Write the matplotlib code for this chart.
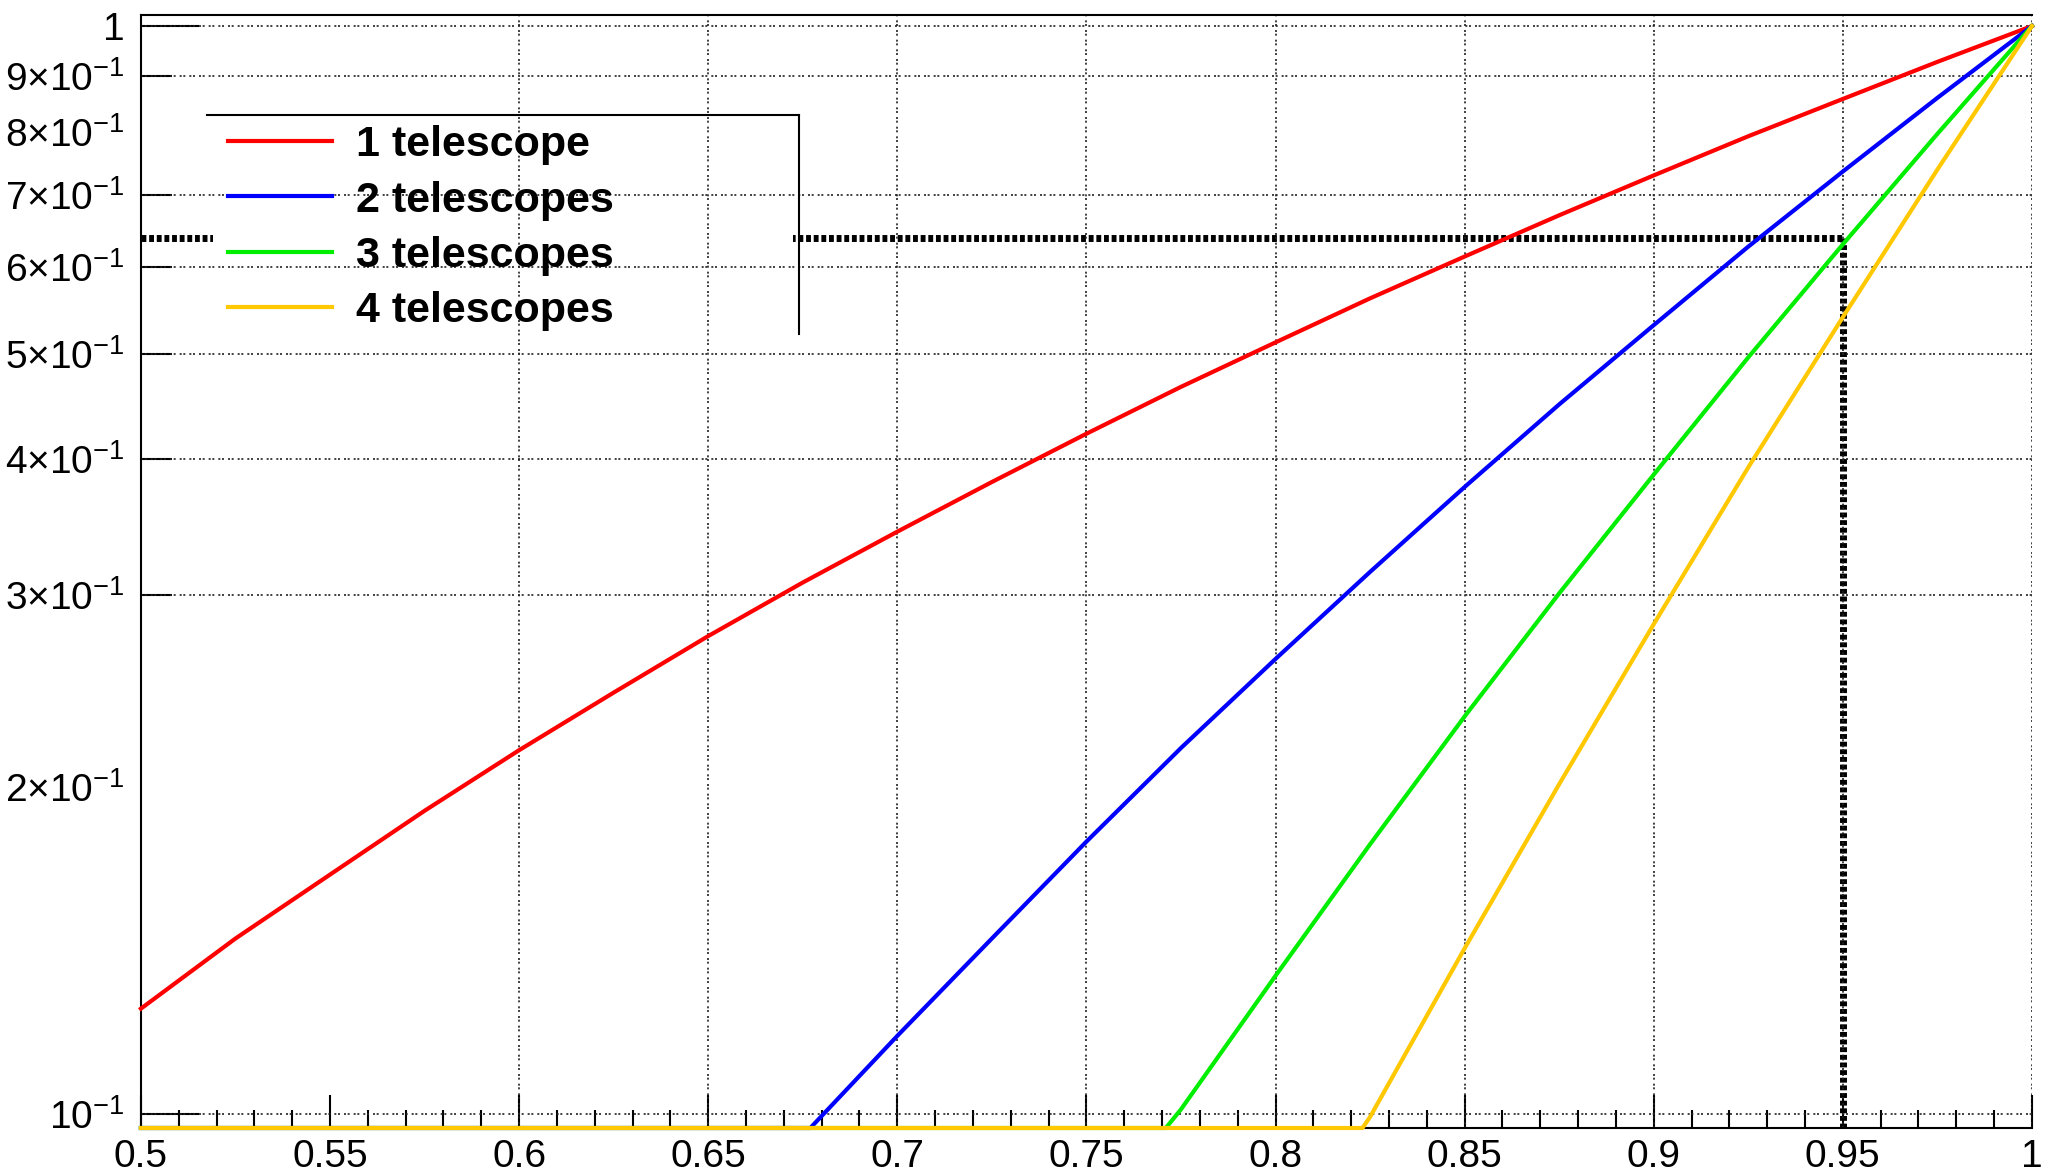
import matplotlib
matplotlib.use("Agg")
import matplotlib.pyplot as plt
from matplotlib.patches import Rectangle
from matplotlib.ticker import FixedLocator, FixedFormatter, NullLocator, MultipleLocator

# ======================
# |       DATA         |
# ======================
# empty bins land on the bottom of the log axis
y_floor = 0.0971
y_top = 1.0236

# 1 telescope
red_x = [0.5, 0.525, 0.55, 0.575, 0.6, 0.625, 0.65, 0.675, 0.7, 0.725, 0.75,
         0.775, 0.8, 0.825, 0.85, 0.875, 0.9, 0.925, 0.95, 0.975, 1.0]
red_y = [0.125, 0.145, 0.166, 0.190, 0.216, 0.244, 0.275, 0.308, 0.343, 0.381, 0.422,
         0.466, 0.512, 0.562, 0.614, 0.670, 0.729, 0.792, 0.857, 0.927, 1.0]

# 2 telescopes
blue_x = [0.5, 0.677, 0.7, 0.725, 0.75, 0.775, 0.8, 0.825, 0.85, 0.875, 0.9,
          0.925, 0.95, 0.975, 1.0]
blue_y = [0.0971, 0.0971, 0.118, 0.145, 0.178, 0.217, 0.262, 0.315, 0.377, 0.449, 0.531,
          0.627, 0.735, 0.859, 1.0]

# 3 telescopes
green_x = [0.5, 0.771, 0.775, 0.8, 0.825, 0.85, 0.875, 0.9, 0.925, 0.95, 0.975, 1.0]
green_y = [0.0971, 0.0971, 0.101, 0.134, 0.177, 0.232, 0.301, 0.387, 0.496, 0.630, 0.796, 1.0]

# 4 telescopes
yellow_x = [0.5, 0.823, 0.825, 0.85, 0.875, 0.9, 0.925, 0.95, 0.975, 1.0]
yellow_y = [0.0971, 0.0971, 0.0994, 0.142, 0.201, 0.282, 0.393, 0.540, 0.738, 1.0]

labels = ["1 telescope", "2 telescopes", "3 telescopes", "4 telescopes"]
colors = ["#ff0000", "#0000ff", "#00ee00", "#ffc800"]

# working point markers
ref_level = 0.639
ref_x = 0.95

# ticks
x_ticks = [0.5, 0.55, 0.6, 0.65, 0.7, 0.75, 0.8, 0.85, 0.9, 0.95, 1.0]
x_labels = ["0.5", "0.55", "0.6", "0.65", "0.7", "0.75", "0.8", "0.85", "0.9", "0.95", "1"]
y_ticks = [0.1, 0.2, 0.3, 0.4, 0.5, 0.6, 0.7, 0.8, 0.9, 1.0]
y_labels = [r"$10^{-1}$", r"$2{\times}10^{-1}$", r"$3{\times}10^{-1}$", r"$4{\times}10^{-1}$",
            r"$5{\times}10^{-1}$", r"$6{\times}10^{-1}$", r"$7{\times}10^{-1}$",
            r"$8{\times}10^{-1}$", r"$9{\times}10^{-1}$", "1"]
x_grid = [0.6, 0.65, 0.7, 0.75, 0.8, 0.85, 0.9, 0.95, 1.0]
y_grid = [0.1, 0.3, 0.4, 0.5, 0.6, 0.7, 0.9, 1.0]

# ======================
# |       PLOT         |
# ======================
plt.rcParams["font.family"] = ["Liberation Sans", "DejaVu Sans"]
plt.rcParams["mathtext.fontset"] = "custom"
plt.rcParams["mathtext.rm"] = "Liberation Sans"
plt.rcParams["mathtext.it"] = "Liberation Sans:italic"
plt.rcParams["mathtext.bf"] = "Liberation Sans:bold"

fig = plt.figure(figsize=(20.45, 11.75), dpi=100)
ax = fig.add_axes([0.0689, 0.0400, 0.9247, 0.9472])
ax.set_yscale("log")
ax.set_xlim(0.5, 1.0)
ax.set_ylim(y_floor, y_top)

grid_style = (0, (1.2, 1.0, 1.2, 2.4))
for v in y_grid:
    ax.axhline(v, color="#222222", lw=1.2, ls=grid_style, zorder=2)
for v in x_grid:
    ax.axvline(v, color="#222222", lw=1.2, ls=grid_style, zorder=2)

# thick dotted working point lines
ax.hlines(ref_level, 0.5, ref_x, colors="k", lw=5, linestyles=(0, (0.7, 0.4)), zorder=1)
ax.vlines(ref_x, y_floor, ref_level, colors="k", lw=5, linestyles=(0, (0.7, 0.4)), zorder=1)

# curves
series = [(red_x, red_y), (blue_x, blue_y), (green_x, green_y), (yellow_x, yellow_y)]
for (xs, ys), lab, c in zip(series, labels, colors):
    ax.plot(xs, ys, color=c, lw=3, label=lab, zorder=3, clip_on=False)

# legend: white fill, only top and right border
ax.add_patch(Rectangle((0.038, 0.7134), 0.307, 0.1966, transform=ax.transAxes,
                       fc="white", ec="none", zorder=1.5))
ax.plot([0.0349, 0.348], [0.910, 0.910], transform=ax.transAxes, color="k", lw=1.5, zorder=4)
ax.plot([0.348, 0.348], [0.910, 0.7134], transform=ax.transAxes, color="k", lw=1.5, zorder=4)
ax.legend(loc="upper left", bbox_to_anchor=(0.046, 0.9008), frameon=False,
          prop={"weight": "bold", "size": 31}, handlelength=2.42, handletextpad=0.56,
          labelspacing=0.35, borderpad=0, borderaxespad=0)

# spines
ax.spines["right"].set_visible(False)
for s in ["top", "left", "bottom"]:
    ax.spines[s].set_linewidth(1.5)

# ticks
ax.xaxis.set_major_locator(FixedLocator(x_ticks))
ax.xaxis.set_major_formatter(FixedFormatter(x_labels))
ax.xaxis.set_minor_locator(MultipleLocator(0.01))
ax.yaxis.set_major_locator(FixedLocator(y_ticks))
ax.yaxis.set_major_formatter(FixedFormatter(y_labels))
ax.yaxis.set_minor_locator(NullLocator())
ax.tick_params(axis="x", which="major", direction="in", length=24, width=1.5,
               labelsize=28, pad=8, top=False)
ax.tick_params(axis="x", which="minor", direction="in", length=13, width=1.5, top=False)
ax.tick_params(axis="y", which="major", direction="in", length=22, width=1.5,
               labelsize=28, pad=12, right=False)
for tick, v in zip(ax.yaxis.get_major_ticks(), y_ticks):
    if v in (0.1, 1.0):
        tick.tick1line.set_markersize(42)
    if v in (0.2, 0.8):
        tick.tick1line.set_visible(False)

fig.savefig("out.png", dpi=100)
